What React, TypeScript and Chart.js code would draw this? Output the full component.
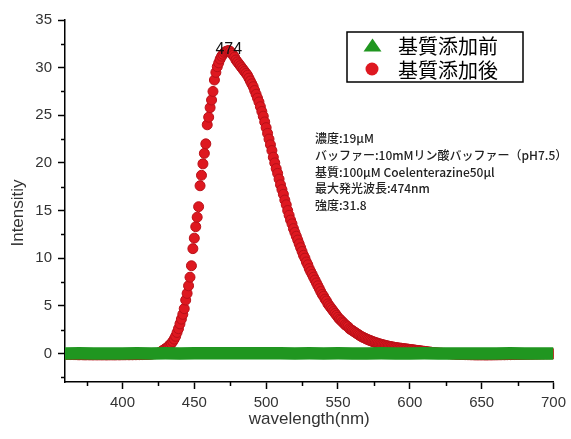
import { useEffect, useRef } from "react";
import { Chart, registerables } from "chart.js";

Chart.register(...registerables);

// ---- data ----
const WL_START = 360; // first wavelength of the "after" scan (1 nm sampling)

// 360–424 nm
const afterLeftTail = [
  -0.08, -0.1, -0.11, -0.11, -0.12, -0.11, -0.12, -0.13, -0.12, -0.14,
  -0.14, -0.13, -0.14, -0.14, -0.15, -0.14, -0.14, -0.15, -0.14, -0.15,
  -0.15, -0.14, -0.15, -0.15, -0.14, -0.15, -0.15, -0.14, -0.15, -0.15,
  -0.15, -0.14, -0.15, -0.14, -0.15, -0.15, -0.14, -0.14, -0.15, -0.14,
  -0.14, -0.14, -0.14, -0.13, -0.14, -0.14, -0.13, -0.14, -0.13, -0.13,
  -0.13, -0.12, -0.13, -0.12, -0.12, -0.11, -0.1, -0.1, -0.09, -0.08,
  -0.07, -0.05, -0.03, -0.02, -0.01,
];

// 425–620 nm
const afterPeak = [
  0.0, 0.1, 0.2, 0.3, 0.4, 0.5, 0.6, 0.75, 0.9, 1.05,
  1.25, 1.5, 1.8, 2.2, 2.6, 3.1, 3.6, 4.1, 4.7, 5.6,
  6.3, 7.1, 8.0, 9.2, 11.0, 12.1, 13.3, 14.3, 15.4, 17.6,
  18.7, 19.9, 21.0, 22.0, 24.0, 24.8, 25.8, 26.6, 27.5, 28.7,
  29.5, 30.1, 30.5, 30.9, 31.2, 31.4, 31.6, 31.7, 31.75, 31.8,
  31.7, 31.5, 31.3, 31.1, 30.8, 30.6, 30.4, 30.2, 30.0, 29.8,
  29.6, 29.4, 29.2, 28.9, 28.6, 28.3, 28.0, 27.6, 27.2, 26.8,
  26.4, 25.9, 25.4, 24.9, 24.3, 23.7, 23.1, 22.5, 21.9, 21.3,
  20.6, 20.0, 19.4, 18.9, 18.3, 17.7, 17.2, 16.7, 16.1, 15.6,
  15.0, 14.5, 14.0, 13.6, 13.1, 12.7, 12.3, 11.9, 11.5, 11.1,
  10.7, 10.3, 10.0, 9.6, 9.3, 8.9, 8.6, 8.3, 8.0, 7.7,
  7.4, 7.1, 6.8, 6.5, 6.2, 6.0, 5.7, 5.5, 5.2, 5.0,
  4.8, 4.6, 4.4, 4.2, 4.0, 3.8, 3.6, 3.5, 3.3, 3.2,
  3.0, 2.9, 2.8, 2.6, 2.5, 2.4, 2.3, 2.2, 2.1, 2.0,
  1.9, 1.8, 1.72, 1.65, 1.58, 1.5, 1.44, 1.38, 1.32, 1.26,
  1.2, 1.15, 1.1, 1.05, 1.0, 0.96, 0.92, 0.88, 0.84, 0.8,
  0.77, 0.74, 0.71, 0.68, 0.65, 0.62, 0.6, 0.58, 0.56, 0.54,
  0.52, 0.5, 0.48, 0.46, 0.44, 0.42, 0.4, 0.38, 0.36, 0.34,
  0.32, 0.3, 0.28, 0.26, 0.24, 0.22, 0.2, 0.18, 0.16, 0.14,
  0.12, 0.1, 0.08, 0.06, 0.05, 0.04,
];

// 621–700 nm
const afterRightTail = [
  0.03, 0.02, 0.01, 0.0, -0.01, -0.02, -0.03, -0.04, -0.05, -0.06,
  -0.07, -0.08, -0.09, -0.1, -0.1, -0.11, -0.12, -0.12, -0.13, -0.13,
  -0.13, -0.14, -0.14, -0.14, -0.15, -0.15, -0.15, -0.15, -0.15, -0.15,
  -0.15, -0.15, -0.16, -0.15, -0.15, -0.15, -0.15, -0.15, -0.14, -0.15,
  -0.14, -0.14, -0.14, -0.14, -0.13, -0.14, -0.13, -0.13, -0.12, -0.13,
  -0.12, -0.11, -0.12, -0.11, -0.1, -0.11, -0.1, -0.09, -0.1, -0.09,
  -0.08, -0.09, -0.08, -0.07, -0.08, -0.07, -0.07, -0.06, -0.07, -0.06,
  -0.05, -0.06, -0.05, -0.05, -0.04, -0.05, -0.04, -0.04, -0.04, -0.03,
];

const beforeWavelengths = [
  360, 370, 380, 390, 400, 410, 420, 430, 440, 450, 460, 470, 480, 490, 500, 510, 520, 530,
  540, 550, 560, 570, 580, 590, 600, 610, 620, 630, 640, 650, 660, 670, 680, 690, 700,
];
const beforeIntensity = [
  0.0, 0.01, 0.0, -0.01, 0.0, 0.01, 0.0, 0.01, 0.0, 0.02, 0.01, 0.02, 0.01, 0.02, 0.01, 0.01, 0.0, 0.01,
  0.0, 0.01, 0.0, 0.0, 0.01, 0.0, 0.0, 0.01, 0.0, 0.0, -0.01, 0.0, 0.0, 0.01, 0.0, 0.0, 0.0,
];

const seriesNames = ["基質添加前", "基質添加後"];
const infoLines = [
  "濃度:19μM",
  "バッファー:10mMリン酸バッファー（pH7.5）",
  "基質:100μM Coelenterazine50μl",
  "最大発光波長:474nm",
  "強度:31.8",
];
const xTitle = "wavelength(nm)";
const yTitle = "Intensitiy";
const xMajorStep = 50;
const yMajorStep = 5;
const xMinorTicks = [375, 425, 475, 525, 575, 625, 675];
const yMinorTicks = [-2.5, 2.5, 7.5, 12.5, 17.5, 22.5, 27.5, 32.5];

const RED = "rgb(222,24,32)";
const RED_EDGE = "rgb(185,16,24)";
const GREEN = "rgb(32,150,32)";

export default function App() {
  const ref = useRef<HTMLCanvasElement | null>(null);

  useEffect(() => {
    if (!ref.current) return;
    const afterValues = [...afterLeftTail, ...afterPeak, ...afterRightTail];
    const afterData = afterValues.map((v, i) => ({ x: WL_START + i, y: v }));
    const beforeData = beforeWavelengths.map((w, i) => ({ x: w, y: beforeIntensity[i] }));

    const decor = {
      id: "decor",
      afterDraw(chart: any) {
        const ctx = chart.ctx as CanvasRenderingContext2D;
        const xs = chart.scales.x;
        const ys = chart.scales.y;
        const a = chart.chartArea;
        ctx.save();
        // minor ticks
        ctx.strokeStyle = "#000";
        ctx.lineWidth = 1.5;
        for (const v of xMinorTicks) {
          const px = Math.round(xs.getPixelForValue(v)) + 0.5;
          ctx.beginPath();
          ctx.moveTo(px, a.bottom);
          ctx.lineTo(px, a.bottom + 4);
          ctx.stroke();
        }
        for (const v of yMinorTicks) {
          const py = Math.round(ys.getPixelForValue(v)) + 0.5;
          ctx.beginPath();
          ctx.moveTo(a.left, py);
          ctx.lineTo(a.left - 4, py);
          ctx.stroke();
        }
        // axis titles
        ctx.fillStyle = "#333";
        ctx.font = '17px "Liberation Sans", Arial, sans-serif';
        ctx.textAlign = "center";
        ctx.textBaseline = "middle";
        ctx.fillText(xTitle, (a.left + a.right) / 2, 419);
        ctx.save();
        ctx.translate(18, 213);
        ctx.rotate(-Math.PI / 2);
        ctx.fillText(yTitle, 0, 0);
        ctx.restore();

        // peak label
        let mi = 0;
        afterValues.forEach((v, i) => {
          if (v > afterValues[mi]) mi = i;
        });
        const pk = WL_START + mi;
        ctx.fillStyle = "#111";
        ctx.font = '16px "Liberation Sans", Arial, sans-serif';
        ctx.fillText(String(pk), xs.getPixelForValue(pk), ys.getPixelForValue(afterValues[mi]) - 1);

        // info text
        ctx.textAlign = "left";
        ctx.fillStyle = "#222";
        ctx.font = '500 12px "Noto Sans CJK JP", sans-serif';
        const infoY = [138, 155, 172, 188, 205];
        infoLines.forEach((t, i) => ctx.fillText(t, 315, infoY[i]));

        // legend box
        ctx.strokeStyle = "#000";
        ctx.lineWidth = 1.5;
        ctx.strokeRect(347, 32, 176, 50);
        ctx.fillStyle = GREEN;
        ctx.beginPath();
        ctx.moveTo(372.5, 38.5);
        ctx.lineTo(381.5, 51.5);
        ctx.lineTo(363.5, 51.5);
        ctx.closePath();
        ctx.fill();
        ctx.fillStyle = RED;
        ctx.beginPath();
        ctx.arc(372, 69, 6.5, 0, Math.PI * 2);
        ctx.fill();
        ctx.fillStyle = "#000";
        ctx.font = '20px "Noto Sans CJK JP", sans-serif';
        ctx.fillText(seriesNames[0], 398, 46);
        ctx.fillText(seriesNames[1], 398, 70);
        ctx.restore();
      },
    };

    const tickFont = { family: '"Liberation Sans", Arial, sans-serif', size: 15 };
    const chart = new Chart(ref.current, {
      type: "line",
      data: {
        datasets: [
          {
            label: seriesNames[0],
            data: beforeData,
            borderColor: GREEN,
            backgroundColor: GREEN,
            borderWidth: 12.5,
            borderCapStyle: "butt",
            pointRadius: 0,
            pointStyle: "triangle",
            order: 0,
          },
          {
            label: seriesNames[1],
            data: afterData,
            showLine: false,
            pointStyle: "circle",
            pointRadius: 5,
            pointBorderWidth: 1,
            pointBackgroundColor: RED,
            pointBorderColor: RED_EDGE,
            borderColor: RED,
            backgroundColor: RED,
            order: 1,
          },
        ],
      },
      options: {
        responsive: false,
        animation: false,
        events: [],
        layout: { padding: { left: 0, right: 13, top: 20, bottom: 0 } },
        plugins: { legend: { display: false }, tooltip: { enabled: false } },
        scales: {
          x: {
            type: "linear",
            min: 360,
            max: 700,
            afterBuildTicks: (s: any) => {
              s.ticks = s.ticks.filter((t: any) => t.value % xMajorStep === 0);
            },
            afterFit: (s: any) => {
              s.height = 57;
            },
            ticks: { stepSize: xMajorStep, font: tickFont, color: "#333", padding: 5, maxRotation: 0, autoSkip: false },
            grid: { drawOnChartArea: false, tickLength: 7, color: "#000", tickWidth: 1.5 },
            border: { color: "#000", width: 1.5 },
          },
          y: {
            type: "linear",
            min: -3,
            max: 35,
            afterBuildTicks: (s: any) => {
              s.ticks = s.ticks.filter((t: any) => t.value % yMajorStep === 0);
            },
            afterFit: (s: any) => {
              s.width = 65;
            },
            ticks: { stepSize: yMajorStep, font: tickFont, color: "#333", padding: 6, autoSkip: false },
            grid: { drawOnChartArea: false, tickLength: 7, color: "#000", tickWidth: 1.5 },
            border: { color: "#000", width: 1.5 },
          },
        },
      },
      plugins: [decor],
    } as any);
    return () => chart.destroy();
  }, []);

  return (
    <div style={{ position: "fixed", left: 0, top: 0, width: 571, height: 439, background: "#fff" }}>
      <canvas ref={ref} width={571} height={439} />
    </div>
  );
}
